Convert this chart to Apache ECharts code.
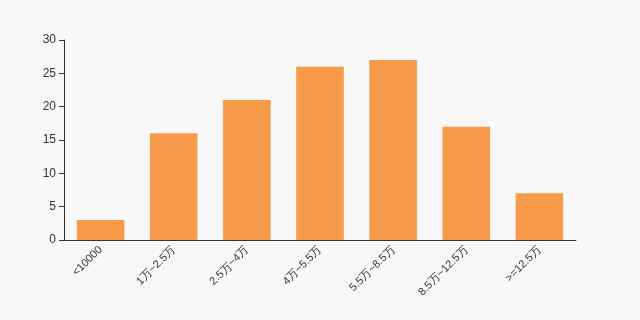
<!DOCTYPE html>
<html><head><meta charset="utf-8">
<script src="https://cdn.jsdelivr.net/npm/echarts@6/dist/echarts.min.js"></script>
<style>html,body{margin:0;padding:0;background:#f8f8f8;}#c{width:640px;height:320px;}</style>
</head><body><div id="c"></div>
<script>
const categories = ["<10000", "1万~2.5万", "2.5万~4万", "4万~5.5万", "5.5万~8.5万", "8.5万~12.5万", ">=12.5万"];
const values = [3, 16, 21, 26, 27, 17, 7];
const chart = echarts.init(document.getElementById('c'));
chart.setOption({
  backgroundColor: '#f8f8f8',
  animation: false,
  grid: {left: 64, right: 64, top: 40, bottom: 80},
  xAxis: {
    type: 'category', data: categories,
    axisLine: {lineStyle: {color: '#333'}},
    axisTick: {lineStyle: {color: '#333'}},
    axisLabel: {rotate: 45, color: '#333', fontSize: 11, interval: 0, fontFamily: 'sans-serif'}
  },
  yAxis: {
    type: 'value', min: 0, max: 30, interval: 5,
    axisLine: {show: true, lineStyle: {color: '#333'}},
    axisTick: {show: true, lineStyle: {color: '#333'}},
    splitLine: {show: false},
    axisLabel: {color: '#333', fontSize: 12, fontFamily: 'sans-serif'}
  },
  series: [{type: 'bar', data: values, barWidth: '65%', itemStyle: {color: '#f79a4a'}}]
});
</script></body></html>
